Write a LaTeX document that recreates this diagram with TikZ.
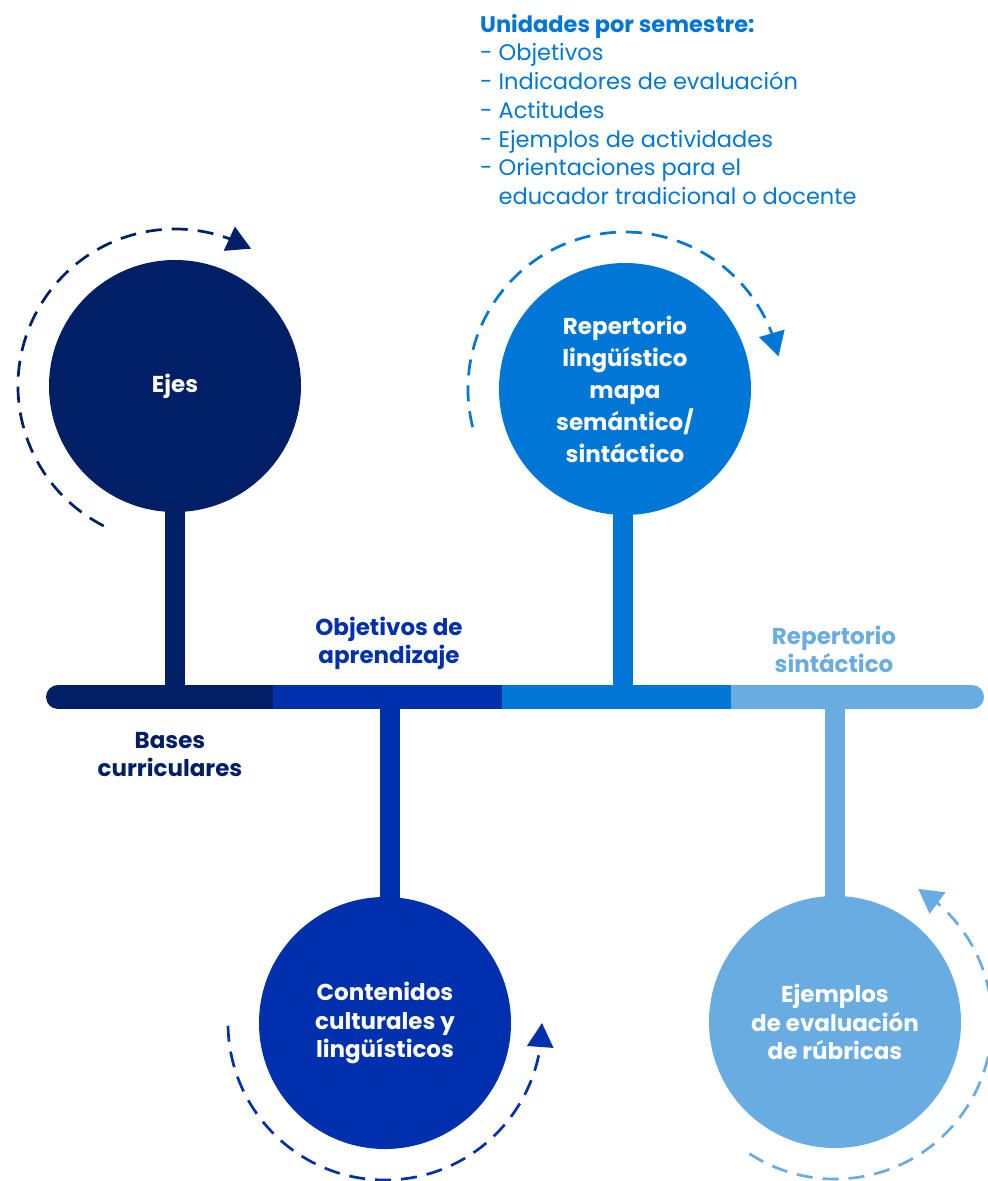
\documentclass[tikz,border=0pt]{standalone}
\usepackage{fontspec}
\setmainfont{Poppins}
\usetikzlibrary{arrows.meta,calc,backgrounds,bending}
\definecolor{cnavy}{HTML}{001F66}
\definecolor{cblue}{HTML}{0030AD}
\definecolor{cmed}{HTML}{0076D6}
\definecolor{clight}{HTML}{68ACE2}
\begin{document}
\begin{tikzpicture}[x=1pt,y=-1pt,
 bub/.style={circle, minimum size=252pt, inner sep=0pt, text=white, align=center, font=\fontsize{23}{32}\selectfont\bfseries},
 stem/.style={line width=20pt},
 barseg/.style={line width=24pt},
 cyc/.style={line width=2.7pt, dash pattern=on 16pt off 10pt, -{Triangle[length=24pt,width=26pt,flex]}},
 lbl/.style={align=center, font=\fontsize{23}{28}\selectfont\bfseries}]
\useasboundingbox (0,0) rectangle (988,1181);
% circles
\node[bub, fill=cnavy] (ejes) at (175,386) {Ejes};
\node[bub, fill=cmed] (rep) at (625,389) {Repertorio\\lingüístico\\mapa\\semántico/\\sintáctico};
\node[bub, fill=cblue, font=\fontsize{23}{28.5}\selectfont\bfseries] (cont) at (385,1023) {Contenidos\\culturales y\\lingüísticos};
\node[bub, fill=clight, font=\fontsize{23}{28.5}\selectfont\bfseries] (ejm) at (835,1022) {Ejemplos\\de evaluación\\de rúbricas};
% bar coordinates
\coordinate (bL) at (58,697);
\coordinate (b1) at (273,697);
\coordinate (b2) at (502,697);
\coordinate (b3) at (731,697);
\coordinate (bR) at (972,697);
\begin{pgfonlayer}{background}
\draw[stem, cnavy] (ejes.center) -- (ejes.center |- b1);
\draw[stem, cmed] ($(rep.center)+(-2,0)$) -- ($(rep.center |- b1)+(-2,0)$);
\draw[stem, cblue] ($(cont.center)+(5,0)$) -- ($(cont.center |- b1)+(5,0)$);
\draw[stem, clight] (ejm.center) -- (ejm.center |- b1);
\draw[barseg, cnavy, line cap=round] (bL) -- (b1);
\draw[barseg, clight, line cap=round] (b3) -- (bR);
\draw[barseg, cblue] (b1) -- (b2);
\draw[barseg, cmed] (b2) -- (b3);
\end{pgfonlayer}
% labels
\node[lbl, text=cnavy] (bases) at (170,755) {Bases\\curriculares};
\node[lbl, text=cblue] (obj) at (389,643) {Objetivos de\\aprendizaje};
\node[lbl, text=clight] (rsin) at (834,649) {Repertorio\\sintáctico};
% top list
\node[anchor=north west, align=left, text=cmed, font=\fontsize{22.5}{28.7}\selectfont, inner sep=0pt] (units) at (480,14)
 {\textbf{Unidades por semestre:}\\- Objetivos\\- Indicadores de evaluación\\- Actitudes\\- Ejemplos de actividades\\- Orientaciones para el\\\hphantom{- }educador tradicional o docente};
% cycle arrows
\draw[cyc, cnavy] ($(ejes.center)+(243:157pt)$) arc[start angle=243, end angle=61, radius=157pt];
\draw[cyc, cmed] ($(rep.center)+(194:157pt)$) arc[start angle=194, end angle=12, radius=157pt];
\draw[cyc, cblue] ($(cont.center)+(181:157pt)$) arc[start angle=181, end angle=360, radius=157pt];
\draw[cyc, clight] ($(ejm.center)+(237:157pt)$) arc[start angle=237, end angle=418, radius=157pt];
\end{tikzpicture}
\end{document}
